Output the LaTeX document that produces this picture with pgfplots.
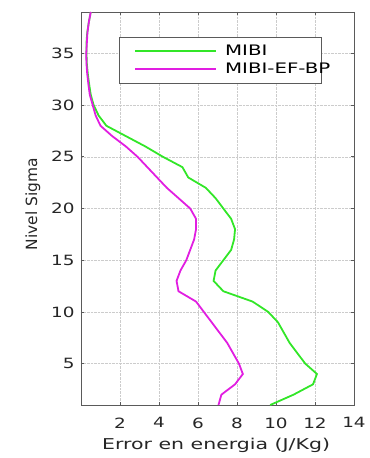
\documentclass[border=0pt]{standalone}
\usepackage{fontspec}
\setmainfont{DejaVu Sans}
\newfontfamily\wide{DejaVu Sans}[FakeStretch=1.3]
\newfontfamily\wider{DejaVu Sans}[FakeStretch=1.37]
\usepackage{pgfplots}
\pgfplotsset{compat=1.18}
\definecolor{mgreen}{RGB}{50,230,40}
\definecolor{mmag}{RGB}{225,30,225}
\definecolor{axgray}{RGB}{90,90,90}
\newcommand{\legline}[1]{\tikz[baseline=-0.33em]\draw[draw=#1, line width=1.7pt] (0bp,0bp) -- (81bp,0bp);\hspace{8bp}}
\begin{document}
\begin{tikzpicture}
\begin{axis}[
  scale only axis,
  width=273bp, height=393bp,
  xmin=0, xmax=14, ymin=1, ymax=39,
  xtick={2,4,6,8,10,12,14},
  ytick={5,10,15,20,25,30,35},
  grid=major,
  major grid style={densely dotted, gray!40},
  axis line style={axgray, line width=0.9pt},
  tick style={axgray, line width=0.8pt},
  major tick length=3bp,
  tick align=inside,
  tick label style={font=\wide\fontsize{14.2}{16}\selectfont, text=black!85},
  xticklabel style={yshift=-9bp},
  yticklabel style={xshift=-3bp},
  /pgf/number format/assume math mode=true,
  xlabel={Error en energia (J/Kg)},
  xlabel style={font=\wider\fontsize{15}{16}\selectfont, text=black!85,
    at={(axis description cs:0.495,-0.104)}, anchor=center},
  ylabel={Nivel Sigma},
  ylabel style={font=\fontsize{15.5}{16}\selectfont, text=black!85,
    at={(axis description cs:-0.176,0.511)}, anchor=center},
  legend style={at={(0.139,0.937)}, anchor=north west, draw=axgray, line width=0.9pt,
    font=\wider\fontsize{14.5}{16}\selectfont, inner xsep=11bp, inner ysep=6bp, row sep=2bp,
    column sep=0bp, nodes={text width=172bp, align=left, inner xsep=4bp}},
  legend cell align=left,
  legend image code/.code={},
]
\addplot[color=mgreen, line width=1.8pt] coordinates {
(9.7,1)(10.9,2)(11.9,3)(12.1,4)(11.5,5)(11.1,6)(10.7,7)(10.4,8)(10.1,9)(9.6,10)
(8.8,11)(7.3,12)(6.8,13)(6.9,14)(7.3,15)(7.7,16)(7.85,17)(7.9,18)(7.7,19)(7.3,20)
(6.9,21)(6.4,22)(5.5,23)(5.2,24)(4.2,25)(3.3,26)(2.3,27)(1.3,28)(0.9,29)(0.65,30)
(0.5,31)(0.42,32)(0.35,33)(0.3,34)(0.28,35)(0.28,36)(0.32,37)(0.4,38)(0.5,39)
};
\addlegendentry{\mbox{\legline{mgreen}MIBI}}
\addplot[color=mmag, line width=1.8pt] coordinates {
(7.05,1)(7.2,2)(7.9,3)(8.3,4)(8.1,5)(7.8,6)(7.5,7)(7.1,8)(6.7,9)(6.3,10)
(5.9,11)(5.0,12)(4.9,13)(5.1,14)(5.4,15)(5.6,16)(5.8,17)(5.9,18)(5.9,19)(5.6,20)
(5.0,21)(4.4,22)(3.9,23)(3.4,24)(2.9,25)(2.3,26)(1.6,27)(1.0,28)(0.75,29)(0.6,30)
(0.45,31)(0.38,32)(0.32,33)(0.28,34)(0.27,35)(0.3,36)(0.33,37)(0.4,38)(0.5,39)
};
\addlegendentry{\mbox{\legline{mmag}MIBI-EF-BP}}
\end{axis}
\path ([shift={(-81bp,-53bp)}]current axis.south west) rectangle ([shift={(11bp,12bp)}]current axis.north east);
\end{tikzpicture}
\end{document}
